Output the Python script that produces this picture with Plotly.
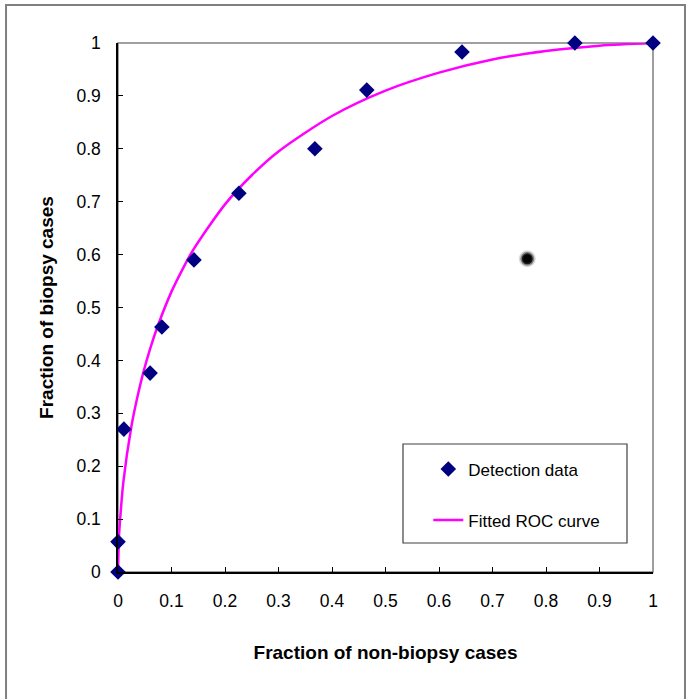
import plotly.graph_objects as go

# detection data (fraction non-biopsy, fraction biopsy)
det_x = [0.0, 0.0, 0.011, 0.06, 0.082, 0.142, 0.226, 0.368, 0.465, 0.643, 0.854, 1.0]
det_y = [0.0, 0.057, 0.27, 0.376, 0.463, 0.59, 0.716, 0.80, 0.911, 0.983, 1.0, 1.0]

# fitted ROC curve
roc_x = [0.0, 0.002, 0.004, 0.01, 0.025, 0.035, 0.047, 0.06, 0.075, 0.1, 0.122, 0.14,
         0.2, 0.25, 0.3, 0.4, 0.5, 0.6, 0.7, 0.8, 0.9, 1.0]
roc_y = [0.0, 0.07, 0.10, 0.17, 0.275, 0.325, 0.376, 0.422, 0.467, 0.53, 0.575, 0.608,
         0.695, 0.75, 0.795, 0.862, 0.91, 0.944, 0.969, 0.985, 0.995, 1.0]

# stray dark spot in the picture
spot_x = [0.765]
spot_y = [0.592]

tick_vals = [0, 0.1, 0.2, 0.3, 0.4, 0.5, 0.6, 0.7, 0.8, 0.9, 1]
tick_text = ["0", "0.1", "0.2", "0.3", "0.4", "0.5", "0.6", "0.7", "0.8", "0.9", "1"]

FONT = "Liberation Sans, Arial, sans-serif"

fig = go.Figure()

fig.add_trace(go.Scatter(
    x=roc_x, y=roc_y, mode="lines",
    line=dict(color="#ff00ff", width=2.5, shape="spline", smoothing=0.8),
    name="Fitted ROC curve", legendgroup="b", cliponaxis=False,
))
fig.add_trace(go.Scatter(
    x=det_x, y=det_y, mode="markers",
    marker=dict(symbol="diamond", size=12, color="#000080"),
    name="Detection data", legendgroup="a", legendrank=1, cliponaxis=False,
))

# blurred spot
for size, op in [(17, 0.15), (14, 0.4), (11, 0.8), (8, 1.0)]:
    fig.add_trace(go.Scatter(
        x=spot_x, y=spot_y, mode="markers",
        marker=dict(size=size, color="black", opacity=op, line=dict(width=0)),
        showlegend=False, hoverinfo="skip",
    ))

axis_common = dict(
    range=[0, 1], tickvals=tick_vals, ticktext=tick_text,
    showgrid=False, zeroline=False, automargin=False,
    showline=True, linecolor="black", linewidth=1.5,
    ticks="inside", ticklen=5, tickcolor="black", tickwidth=1,
    tickfont=dict(family=FONT, size=17.5, color="black"),
)

fig.update_xaxes(**axis_common, ticklabelstandoff=12,
                 title=dict(text="<b>Fraction of non-biopsy cases</b>",
                            font=dict(family=FONT, size=19, color="black"),
                            standoff=36))
fig.update_yaxes(**axis_common, ticklabelstandoff=12,
                 title=dict(text="<b>Fraction of biopsy cases</b>",
                            font=dict(family=FONT, size=19, color="black"),
                            standoff=18))

# plot-area border (grey top/right) and outer frame
fig.add_shape(type="rect", xref="x domain", yref="y domain", x0=0, x1=1, y0=0, y1=1,
              line=dict(color="#808080", width=1.5), layer="below")
fig.add_shape(type="rect", xref="paper", yref="paper",
              x0=-0.2093, x1=1.0598, y0=-0.26, y1=1.0718,
              line=dict(color="#808080", width=2))
# legend frame
fig.add_shape(type="rect", xref="paper", yref="paper",
              x0=0.5327, x1=0.9514, y0=0.0548, y1=0.2420,
              line=dict(color="#404040", width=1.2))

fig.update_layout(
    width=692, height=699,
    margin=dict(l=118, r=39, t=43, b=127),
    paper_bgcolor="white", plot_bgcolor="white",
    font=dict(family=FONT, color="black"),
    legend=dict(
        x=0.58, y=0.228, xanchor="left", yanchor="top",
        traceorder="grouped", tracegroupgap=26,
        font=dict(family=FONT, size=17, color="black"),
        bgcolor="rgba(0,0,0,0)", borderwidth=0,
    ),
)

fig.write_html("out.html", config={"displayModeBar": False},
               post_script="document.body.style.margin='0';")
